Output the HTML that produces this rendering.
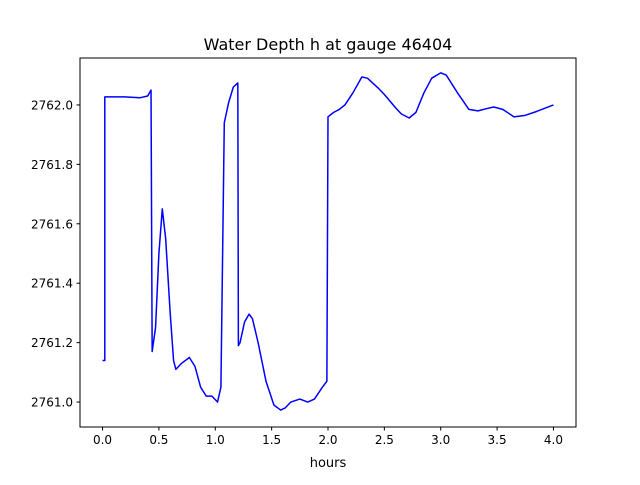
<!DOCTYPE html>
<html><head><meta charset="utf-8">
<style>
html,body{margin:0;padding:0;background:#fff;}
svg text{font-family:"DejaVu Sans","Liberation Sans",sans-serif;fill:#000;}
</style></head>
<body>
<svg id="chart" width="640" height="480" viewBox="0 0 640 480" xmlns="http://www.w3.org/2000/svg">
<rect x="0" y="0" width="640" height="480" fill="#fff"/>
<text x="328" y="50" text-anchor="middle" font-size="16">Water Depth h at gauge 46404</text>
<text x="328" y="467" text-anchor="middle" font-size="13">hours</text>
<g id="plot"></g>
</svg>
<script>
const hours = [0,0.02,0.02,0.2,0.33,0.4,0.43,0.44,0.47,0.5,0.53,0.56,0.6,0.63,0.65,0.7,0.77,0.82,0.87,0.92,0.97,1.02,1.05,1.08,1.12,1.16,1.2,1.205,1.22,1.26,1.3,1.33,1.38,1.45,1.52,1.58,1.62,1.67,1.75,1.82,1.88,1.95,1.99,2.0,2.05,2.1,2.15,2.22,2.3,2.35,2.45,2.5,2.6,2.65,2.72,2.78,2.85,2.92,3.0,3.05,3.15,3.25,3.33,3.4,3.47,3.55,3.65,3.75,3.85,4.0];
const depth = [2761.14,2761.14,2762.027,2762.027,2762.024,2762.03,2762.05,2761.17,2761.25,2761.5,2761.65,2761.55,2761.3,2761.14,2761.11,2761.13,2761.15,2761.12,2761.05,2761.02,2761.02,2761.0,2761.05,2761.94,2762.01,2762.06,2762.074,2761.19,2761.2,2761.27,2761.296,2761.28,2761.2,2761.07,2760.99,2760.973,2760.98,2761.0,2761.01,2761.0,2761.01,2761.05,2761.07,2761.96,2761.975,2761.985,2762.0,2762.04,2762.094,2762.09,2762.055,2762.035,2761.99,2761.97,2761.956,2761.975,2762.04,2762.09,2762.108,2762.1,2762.04,2761.985,2761.98,2761.987,2761.993,2761.985,2761.96,2761.965,2761.978,2762.0];
const xTicks = [0,0.5,1,1.5,2,2.5,3,3.5,4];
const yTicks = [2761.0,2761.2,2761.4,2761.6,2761.8,2762.0];
const L=80,R=576,T=58,B=427;
const xMin=-0.2,xMax=4.2,yMin=2760.916,yMax=2762.158;
const xs=v=>L+(v-xMin)/(xMax-xMin)*(R-L);
const ys=v=>B-(v-yMin)/(yMax-yMin)*(B-T);
const NS="http://www.w3.org/2000/svg";
const g=document.getElementById('plot');
function mk(tag,attrs){const e=document.createElementNS(NS,tag);for(const k in attrs)e.setAttribute(k,attrs[k]);g.appendChild(e);return e;}
let d='';
hours.forEach((h,i)=>{d+=(i?'L':'M')+xs(h).toFixed(2)+' '+ys(depth[i]).toFixed(2);});
const line=mk('path',{d:d,fill:'none',stroke:'#0000ff','stroke-width':1.5,'stroke-linejoin':'round'});


const frame=mk('rect',{x:L,y:T,width:R-L,height:B-T,fill:'none',stroke:'#000','stroke-width':1});


xTicks.forEach(v=>{
  const x=xs(v);
  const t=mk('line',{x1:x,x2:x,y1:B,y2:B+3.5,stroke:'#000'});
  
  
  const lb=mk('text',{x:x,y:B+17,'text-anchor':'middle','font-size':12});
  lb.textContent=v.toFixed(1);
  
  
});
yTicks.forEach(v=>{
  const y=ys(v);
  const t=mk('line',{x1:L-3.5,x2:L,y1:y,y2:y,stroke:'#000'});
  
  
  const lb=mk('text',{x:L-7,y:y+4.5,'text-anchor':'end','font-size':12});
  lb.textContent=v.toFixed(1);
  
  
});
</script>
</body></html>
